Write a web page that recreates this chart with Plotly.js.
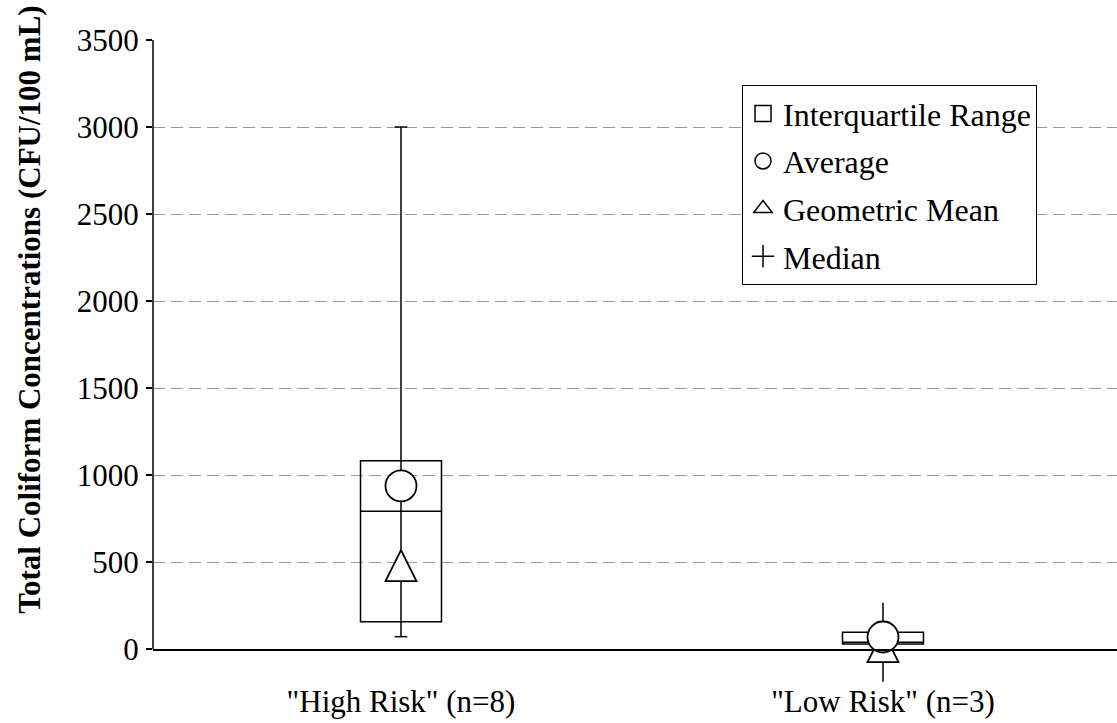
<!DOCTYPE html>
<html><head><meta charset="utf-8">
<script src="https://cdn.plot.ly/plotly-3.0.1.min.js"></script>
<style>html,body{margin:0;padding:0;background:#fff;}</style>
</head><body><div id="chart" style="width:1117px;height:723px;"></div>
<script>
const categories = ['"High Risk" (n=8)', '"Low Risk" (n=3)'];
const catPos = [0, 1];
const minVals = [72, 14];
const q1Vals = [158, 30];
const medianVals = [792, 40];
const q3Vals = [1083, 98];
const maxVals = [3000, 156];
const averageVals = [938, 70];
const geoMeanVals = [480, 15];
const medianErr = [0, 227];
const yTicks = [0, 500, 1000, 1500, 2000, 2500, 3000, 3500];
const yTitle = 'Total Coliform Concentrations (CFU/100 mL)';
const legendNames = ['Interquartile Range', 'Average', 'Geometric Mean', 'Median'];
const legendSymbols = ['square-open', 'circle-open', 'triangle-up-open', 'cross-thin-open'];

const FONT = '"Liberation Serif", "Times New Roman", Times, serif';
const yMinRange = -200;

const wx = [], wy = [];
catPos.forEach((c, i) => { wx.push(c, c, null); wy.push(minVals[i], maxVals[i], null); });

const traces = [
  {type: 'box', x: catPos, q1: q1Vals, median: medianVals, q3: q3Vals,
   lowerfence: q1Vals, upperfence: q3Vals, width: 0.168, whiskerwidth: 0,
   fillcolor: 'rgba(0,0,0,0)', line: {color: '#000', width: 1.5},
   boxpoints: false, showlegend: false, hoverinfo: 'skip'},
  {type: 'scatter', mode: 'lines', x: wx, y: wy, line: {color: '#000', width: 1.5},
   showlegend: false, hoverinfo: 'skip'},
  {type: 'scatter', mode: 'markers', x: catPos, y: medianVals,
   marker: {size: 1, color: 'rgba(0,0,0,0)'},
   error_y: {type: 'data', array: medianErr, symmetric: true, width: 0, thickness: 1.5, color: '#000'},
   showlegend: false, hoverinfo: 'skip'},
  {type: 'scatter', mode: 'markers', x: catPos.concat(catPos), y: minVals.concat(maxVals),
   marker: {symbol: 'line-ew', size: 9, color: '#000', line: {color: '#000', width: 1.5}},
   showlegend: false, hoverinfo: 'skip'},
  {type: 'scatter', mode: 'markers', x: catPos, y: geoMeanVals,
   marker: {symbol: 'arrow-down', angle: 180, size: 31, standoff: 15.5, color: '#fff',
            line: {color: '#000', width: 1.8}},
   showlegend: false, hoverinfo: 'skip'},
  {type: 'scatter', mode: 'markers', x: catPos, y: averageVals,
   marker: {symbol: 'circle', size: 31, color: '#fff', line: {color: '#000', width: 1.8}},
   showlegend: false, hoverinfo: 'skip'}
];
legendNames.forEach((n, i) => {
  traces.push({type: 'scatter', mode: 'markers', x: [null], y: [null], name: n,
    legendgroup: 'g' + i,
    marker: {symbol: legendSymbols[i], size: 16, color: '#000', line: {color: '#000', width: 1.5}},
    hoverinfo: 'skip'});
});

const yMax = yTicks[yTicks.length - 1];
const layout = {
  width: 1117, height: 723,
  margin: {l: 153, r: 0, t: 40, b: 39, pad: 0},
  paper_bgcolor: '#fff', plot_bgcolor: '#fff',
  font: {family: FONT, color: '#000', size: 31},
  showlegend: true,
  xaxis: {range: [-0.5145, 1.4855], tickvals: catPos, ticktext: categories,
    showgrid: false, zeroline: false, showline: true, linecolor: '#000', linewidth: 1.5,
    anchor: 'free', position: (0 - yMinRange) / (yMax - yMinRange), ticks: '',
    ticklabelstandoff: 24, tickfont: {family: FONT, size: 31, color: '#000'}, automargin: false},
  yaxis: {range: [yMinRange, yMax], tickvals: yTicks, ticks: 'outside', ticklen: 6,
    tickcolor: '#000', tickwidth: 1.5, showline: false, zeroline: false,
    showgrid: true, gridcolor: '#9a9a9a', gridwidth: 1, griddash: '12px,6px',
    ticklabelstandoff: 1, tickfont: {family: FONT, size: 31, color: '#000'}, automargin: false},
  annotations: [{text: '<b>' + yTitle + '</b>', textangle: -90, xref: 'paper', yref: 'paper',
    x: -0.1276, y: 0.581, xanchor: 'center', yanchor: 'middle', showarrow: false,
    font: {family: FONT, size: 31, color: '#000'}}],
  shapes: [{type: 'line', xref: 'paper', x0: 0, x1: 0, yref: 'y', y0: yTicks[0], y1: yMax,
    line: {color: '#000', width: 1.5}}],
  legend: {x: 0.611, y: 0.93, xanchor: 'left', yanchor: 'top', bgcolor: '#fff',
    bordercolor: '#000', borderwidth: 1, font: {family: FONT, size: 32, color: '#000'},
    tracegroupgap: 3, itemwidth: 30, traceorder: 'grouped'}
};
Plotly.newPlot('chart', traces, layout, {displayModeBar: false, staticPlot: true});
</script></body></html>
